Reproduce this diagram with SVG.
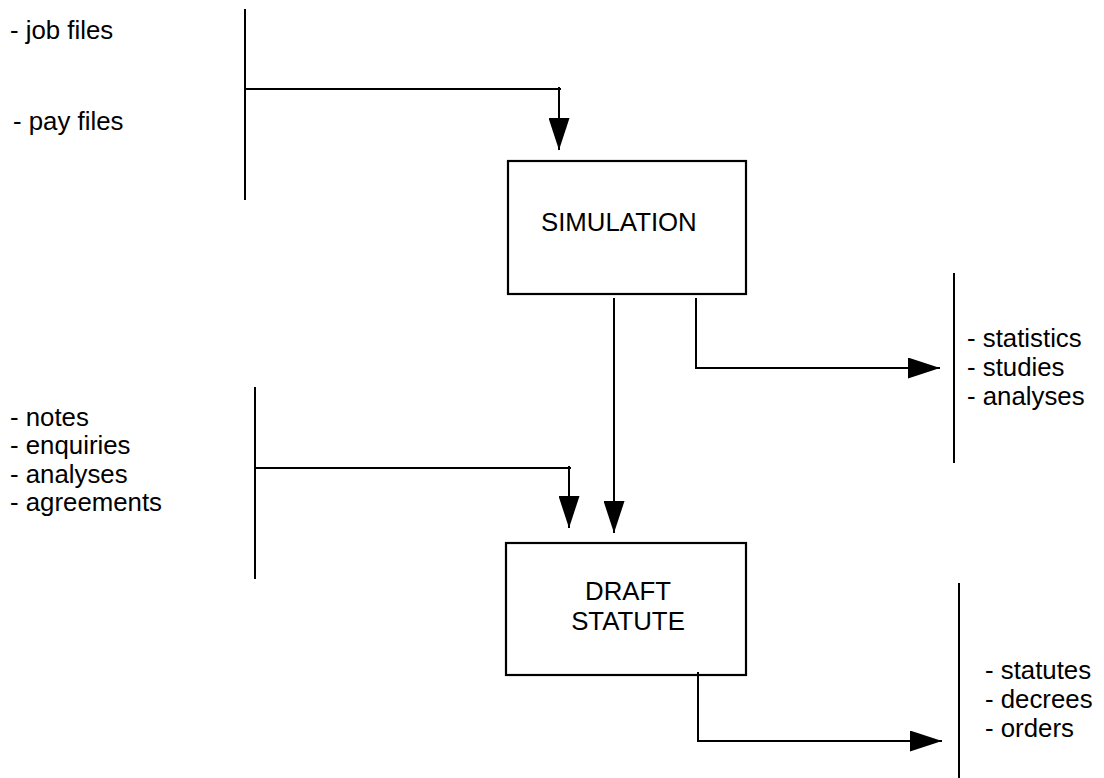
<svg xmlns="http://www.w3.org/2000/svg" width="1104" height="778" viewBox="0 0 1104 778">
<style>
text{font-family:"Liberation Sans",Arial,Helvetica,sans-serif;font-size:25.8px;fill:#000}
.ln{fill:none;stroke:#000;stroke-width:2}
.box{fill:#fff;stroke:#000;stroke-width:2.2}
</style>
<defs>
<marker id="ah" markerUnits="userSpaceOnUse" markerWidth="32" markerHeight="21" refX="32" refY="10.5" orient="auto" viewBox="0 0 32 21">
<path d="M0,0 L32,10.5 L0,21 z" fill="#000"/>
</marker>
</defs>
<rect width="1104" height="778" fill="#fff"/>
<g id="src-files">
<line class="ln" x1="245" y1="9" x2="245" y2="200"/>
<text x="10" y="39">- job files</text>
<text x="13" y="130">- pay files</text>
</g>
<g id="simulation">
<rect class="box" x="508" y="161" width="238" height="133"/>
<text x="541" y="231">SIMULATION</text>
</g>
<g id="out-stats">
<line class="ln" x1="954" y1="273" x2="954" y2="463"/>
<text x="967" y="347">- statistics</text>
<text x="967" y="376">- studies</text>
<text x="967" y="405">- analyses</text>
</g>
<g id="src-notes">
<line class="ln" x1="255" y1="387" x2="255" y2="579"/>
<text x="10" y="426">- notes</text>
<text x="10" y="454">- enquiries</text>
<text x="10" y="483">- analyses</text>
<text x="10" y="511">- agreements</text>
</g>
<g id="draft-statute">
<rect class="box" x="506" y="543" width="240" height="132"/>
<text x="628" y="600" text-anchor="middle">DRAFT</text>
<text x="628" y="630" text-anchor="middle">STATUTE</text>
</g>
<g id="out-statutes">
<line class="ln" x1="959" y1="583" x2="959" y2="778"/>
<text x="985" y="679">- statutes</text>
<text x="985" y="708">- decrees</text>
<text x="985" y="737">- orders</text>
</g>
<g id="connectors">
<path class="ln" d="M245,89 H561 M559,87 V150" marker-end="url(#ah)"/>
<path class="ln" d="M614,298 V533" marker-end="url(#ah)"/>
<path class="ln" d="M696,298 V368 H940" marker-end="url(#ah)"/>
<path class="ln" d="M255,468 H571 M569,466 V528" marker-end="url(#ah)"/>
<path class="ln" d="M698,672 V741 H942" marker-end="url(#ah)"/>
</g>
</svg>
